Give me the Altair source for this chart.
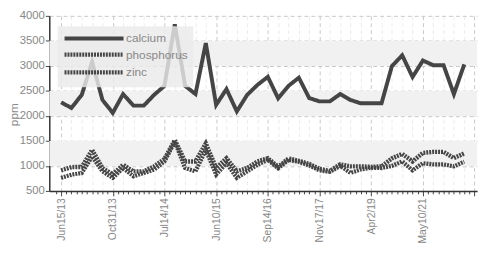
import altair as alt
import pandas as pd

# ---- data ----
idx = list(range(40))
tick_labels = ["Jun15/13", "Oct31/13", "Jul14/14", "Jun10/15",
               "Sep14/16", "Nov17/17", "Apr2/19", "May10/21"]
calcium = [2270, 2160, 2420, 3080, 2320, 2060, 2436, 2205, 2205, 2420,
           2600, 3830, 2600, 2436, 3454, 2220, 2535, 2090, 2420, 2620,
           2780, 2350, 2600, 2764, 2357, 2290, 2290, 2436, 2318, 2251,
           2251, 2251, 2994, 3211, 2777, 3106, 3014, 3014, 2436, 3028]
phosphorus = [760, 825, 858, 1186, 890, 760, 957, 792, 858, 924,
              1088, 1482, 957, 890, 1318, 825, 1055, 760, 890, 1022,
              1121, 950, 1120, 1080, 1010, 910, 880, 1000, 860, 930,
              960, 957, 1000, 1090, 910, 1055, 1030, 1030, 990, 1085]
zinc = [910, 975, 980, 1320, 957, 835, 1022, 890, 890, 989,
        1140, 1515, 1088, 1088, 1450, 957, 1154, 890, 957, 1088,
        1154, 980, 1150, 1100, 1040, 940, 900, 1030, 990, 990,
        980, 990, 1150, 1240, 1090, 1260, 1280, 1280, 1155, 1250]
series = ["calcium", "phosphorus", "zinc"]
band_lo = [1000, 2000, 3000]
band_hi = [1500, 2500, 3500]
y_ticks = [500, 1000, 1500, 2000, 2500, 3000, 3500, 4000]

rows = []
for name, vals in zip(series, [calcium, phosphorus, zinc]):
    for i, v in zip(idx, vals):
        rows.append({"i": i, "ppm": v, "element": name})
df = pd.DataFrame(rows)
bands = pd.DataFrame({"lo": band_lo, "hi": band_hi})

FONT = "Liberation Sans, Arial, sans-serif"
lab_arr = "[" + ",".join("'%s'" % t for t in tick_labels) + "]"

xvals = [v / 2 for v in range(-1, 81)]

x_axis = alt.Axis(
    values=xvals,
    labelExpr="(datum.value % 5 === 0 && datum.value >= 0) ? " + lab_arr + "[datum.value/5] : ''",
    labelAngle=-90, labelOverlap=False, labelBound=False,
    labelFont=FONT, labelFontSize=10.5, labelColor="#888", labelPadding=2,
    domainColor="#333", domainWidth=1.5,
    tickColor="#444",
    tickSize={"condition": {"test": "datum.value % 5 === 0", "value": 5}, "value": 3},
    grid=True, gridDash=[4, 3],
    gridColor={"condition": {"test": "datum.value % 5 === 0", "value": "#c8c8c8"}, "value": "#ececec"},
    gridOpacity={"condition": {"test": "datum.value % 1 !== 0", "value": 0}, "value": 1},
    title=None,
)

y_axis = alt.Axis(
    values=y_ticks, format="d",
    labelFont=FONT, labelFontSize=11.5, labelColor="#888", labelPadding=1,
    domainColor="#333", domainWidth=1.5, tickColor="#444", tickSize=4,
    grid=True, gridDash=[4, 3], gridColor="#c8c8c8",
    title="ppm", titleFont=FONT, titleFontSize=12, titleColor="#888",
    titleFontWeight="normal", titleX=-41, titleY=100, titleBaseline="top",
    titleAngle=270,
)

xs = alt.Scale(domain=[-1.14, 40.24], nice=False, zero=False)
ys = alt.Scale(domain=[500, 4000], nice=False, zero=False)

band_layer = alt.Chart(bands).mark_rect(color="#f1f1f1").encode(
    y=alt.Y("lo:Q", scale=ys, axis=y_axis),
    y2="hi:Q",
)

line_layer = alt.Chart(df).mark_line(color="#454545", strokeJoin="miter", strokeCap="butt").encode(
    x=alt.X("i:Q", scale=xs, axis=x_axis),
    y=alt.Y("ppm:Q", scale=ys, axis=y_axis),
    strokeDash=alt.StrokeDash(
        "element:N",
        scale=alt.Scale(domain=series, range=[[1, 0], [2, 1], [2, 1]]),
        legend=alt.Legend(title=None),
    ),
    strokeWidth=alt.StrokeWidth(
        "element:N",
        scale=alt.Scale(domain=series, range=[4, 4.5, 2.5]),
        legend=alt.Legend(title=None),
    ),
    detail="element:N",
)

chart = alt.layer(band_layer, line_layer).properties(
    width=435, height=178,
    autosize=alt.AutoSizeParams(type="none"),
    padding={"left": 42, "top": 6, "right": 3, "bottom": 52},
).configure_view(stroke=None).configure_legend(
    orient="none", legendX=8, legendY=10,
    fillColor="rgba(234,234,234,0.82)", strokeColor="rgba(0,0,0,0)",
    padding=5, symbolType="M-1,0H9", symbolSize=144, symbolStrokeColor="#454545",
    labelFont=FONT, labelFontSize=12, labelColor="#888", labelOffset=48,
    rowPadding=0, labelLimit=200,
)

chart.save("out.html", embed_options={"renderer": "svg", "actions": False})
